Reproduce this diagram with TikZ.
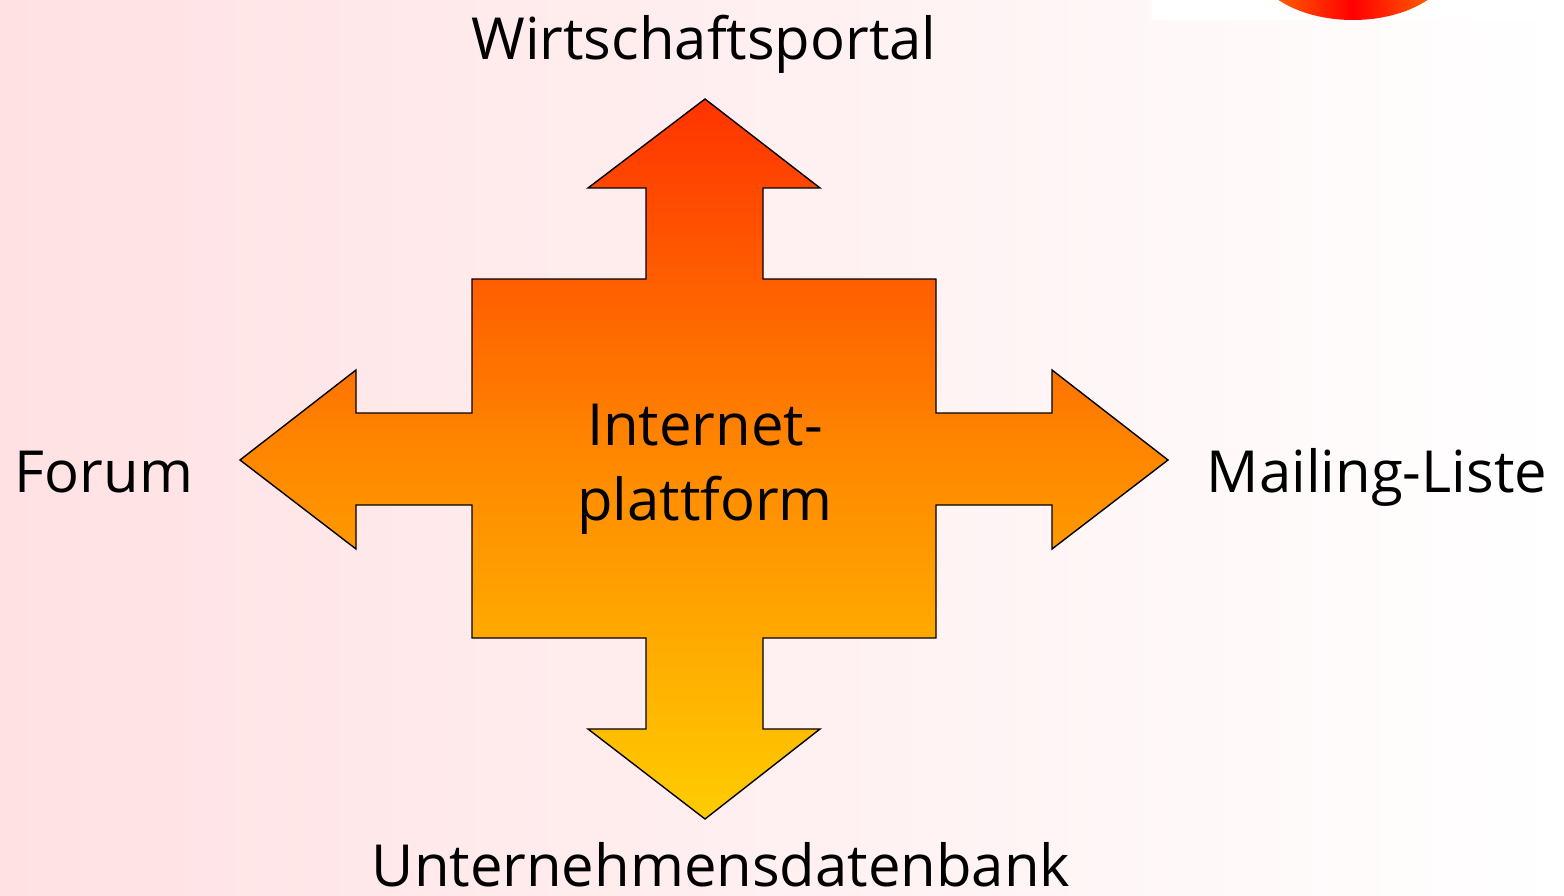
\documentclass[tikz,border=0pt]{standalone}
\usepackage{fontspec}
\setmainfont{Open Sans}
\definecolor{bgpink}{HTML}{FFE1E3}
\definecolor{topred}{HTML}{FF3300}
\definecolor{midorange}{HTML}{FF8800}
\definecolor{botyellow}{HTML}{FFCC00}
\definecolor{logoorange}{HTML}{FF7A00}
\begin{document}
\begin{tikzpicture}[x=1pt,y=-1pt,
  lbl/.style={font=\fontsize{58}{72}\selectfont, inner sep=0pt, anchor=base, text=black},
  crossshape/.style={draw=black, line width=1.4pt, line join=miter}]
\useasboundingbox (0,0) rectangle (1564,896);
\shade[left color=bgpink, right color=white] (0,0) rectangle (1564,896);
% top right logo fragment
\fill[white] (1152,0) rectangle (1564,20);
\begin{scope}
  \clip (1152,0) rectangle (1564,20);
  \shade[left color=logoorange, right color=logoorange, middle color=red] (1353,-40) ellipse [x radius=100, y radius=60];
\end{scope}
% cross arrow
\shade[top color=topred, bottom color=botyellow, middle color=midorange]
  (705,99) -- (820,188) -- (763,188) -- (763,279) -- (936,279) -- (936,413) -- (1052,413) -- (1052,370)
  -- (1168,460) -- (1052,549) -- (1052,505) -- (936,505) -- (936,638) -- (763,638) -- (763,729) -- (820,729)
  -- (705,819) -- (588,729) -- (646,729) -- (646,638) -- (472,638) -- (472,505) -- (356,505) -- (356,549)
  -- (240,460) -- (356,370) -- (356,413) -- (472,413) -- (472,279) -- (646,279) -- (646,188) -- (588,188) -- cycle;
\draw[crossshape]
  (705,99) -- (820,188) -- (763,188) -- (763,279) -- (936,279) -- (936,413) -- (1052,413) -- (1052,370)
  -- (1168,460) -- (1052,549) -- (1052,505) -- (936,505) -- (936,638) -- (763,638) -- (763,729) -- (820,729)
  -- (705,819) -- (588,729) -- (646,729) -- (646,638) -- (472,638) -- (472,505) -- (356,505) -- (356,549)
  -- (240,460) -- (356,370) -- (356,413) -- (472,413) -- (472,279) -- (646,279) -- (646,188) -- (588,188) -- cycle;
% labels
\node[lbl] (top) at (704,60) {Wirtschaftsportal};
\node[lbl] (left) at (104,492) {Forum};
\node[lbl] (right) at (1377,492) {Mailing-Liste};
\node[lbl] (bottom) at (721,886) {Unternehmensdatenbank};
\node[lbl] (c1) at (705,445) {Internet-};
\node[lbl] (c2) at (705,520) {plattform};
\end{tikzpicture}
\end{document}
